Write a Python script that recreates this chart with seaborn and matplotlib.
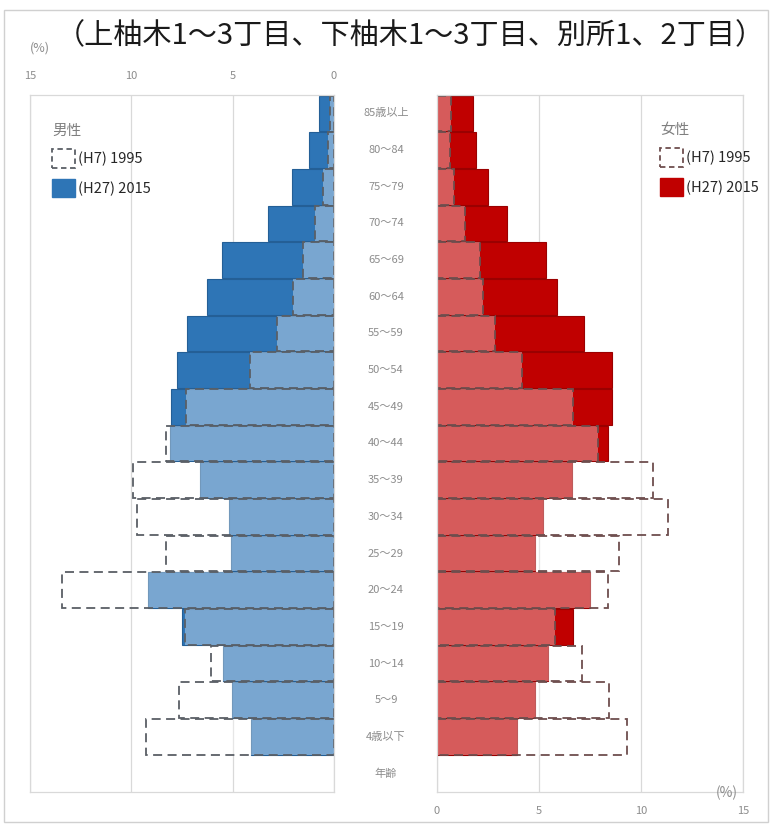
import matplotlib.pyplot as plt
import pandas as pd
import seaborn as sns

from matplotlib.patches import Patch, Rectangle
from matplotlib.transforms import blended_transform_factory


# ==========================================
# DATA
# ==========================================

ages = [
    "85歳以上", "80～84", "75～79", "70～74", "65～69", "60～64",
    "55～59", "50～54", "45～49", "40～44", "35～39", "30～34",
    "25～29", "20～24", "15～19", "10～14", "5～9", "4歳以下"
]

age_slots = ages + ["年齢"]

male_1995 = [0.2, 0.3, 0.54, 0.94, 1.53, 2.03, 2.82, 4.16, 7.28, 8.3,
             9.9, 9.7, 8.3, 13.4, 7.35, 6.08, 7.67, 9.29]
male_2015 = [0.74, 1.24, 2.08, 3.27, 5.54, 6.29, 7.23, 7.77, 8.02, 8.1,
             6.63, 5.2, 5.1, 9.16, 7.5, 5.48, 5.05, 4.1]

female_1995 = [0.69, 0.64, 0.83, 1.37, 2.1, 2.25, 2.84, 4.17, 6.67, 7.9,
               10.6, 11.3, 8.9, 8.4, 5.78, 7.1, 8.43, 9.3]
female_2015 = [1.76, 1.9, 2.5, 3.43, 5.34, 5.88, 7.2, 8.58, 8.58, 8.38,
               6.6, 5.2, 4.8, 7.5, 6.67, 5.44, 4.8, 3.92]

x_ticks = [0, 5, 10, 15]

title = "（上柚木1～3丁目、下柚木1～3丁目、別所1、2丁目）"

label_1995 = "(H7) 1995"
label_2015 = "(H27) 2015"

BLUE = "#2E75B6"
BLUE_EDGE = "#245f96"
RED = "#C00000"
RED_EDGE = "#9a0000"
GRID = "#d9d9d9"
TICK = "#8c8c8c"


sns.set_style("white")

plt.rcParams["font.family"] = ["Noto Sans CJK JP", "DejaVu Sans"]

W, H = 773, 824


def fx(px):
    return px / W


def fy(py):
    return 1 - py / H


# ==========================================
# ONE SIDE OF THE PYRAMID
# ==========================================

def draw_side(ax, old, new, dark, dark_edge, dash_color):

    df_new = pd.DataFrame({"age": ages, "value": new})
    df_old = pd.DataFrame({"age": ages, "value": old})

    sns.barplot(
        data=df_new, x="value", y="age", order=age_slots,
        orient="h", color=dark, saturation=1, width=0.97,
        errorbar=None, edgecolor=dark_edge, linewidth=0.8, ax=ax
    )

    n = len(ax.patches)

    sns.barplot(
        data=df_old, x="value", y="age", order=age_slots,
        orient="h", color="white", saturation=1, width=0.97,
        errorbar=None, ax=ax
    )

    # 1995 bars: translucent white with dashed outline
    for bar in ax.patches[n:]:
        bar.set_facecolor((1, 1, 1, 0.36))
        bar.set_edgecolor(dash_color)
        bar.set_linestyle((0, (5, 3)))
        bar.set_linewidth(1.3)

    ax.set_xlabel("")
    ax.set_ylabel("")
    ax.set_yticks([])
    ax.set_ylim(len(age_slots) - 0.5, -0.5)
    ax.set_xticks(x_ticks)
    ax.grid(axis="x", color=GRID, linewidth=0.9)
    ax.set_axisbelow(True)

    for spine in ax.spines.values():
        spine.set_color(GRID)
        spine.set_linewidth(0.9)

    ax.tick_params(
        axis="x", length=0, pad=10,
        labelsize=8, labelcolor=TICK
    )


fig = plt.figure(figsize=(W / 100, H / 100), dpi=100)

ax_l = fig.add_axes([fx(30), fy(792), fx(304), 697 / H])
ax_r = fig.add_axes([fx(437), fy(792), fx(306), 697 / H])

draw_side(ax_l, male_1995, male_2015, BLUE, BLUE_EDGE, "#5a5f66")
draw_side(ax_r, female_1995, female_2015, RED, RED_EDGE, "#6e4e4e")

ax_l.set_xlim(15, 0)
ax_l.xaxis.tick_top()
ax_r.set_xlim(0, 15)


# ==========================================
# AGE LABELS IN THE MIDDLE
# ==========================================

trans = blended_transform_factory(ax_r.transAxes, ax_r.transData)

for i, age in enumerate(age_slots):

    ax_r.text(
        (386 - 437) / 306, i, age,
        transform=trans, ha="center", va="center",
        fontsize=8, color=TICK
    )


# ==========================================
# LEGENDS
# ==========================================

def side_legend(ax, dark, dash_color, name, x0, y0):

    handles = [
        Patch(facecolor="white", edgecolor=dash_color,
              linestyle=(0, (3, 2)), linewidth=1.3, label=label_1995),
        Patch(facecolor=dark, edgecolor=dark, label=label_2015),
    ]

    leg = ax.legend(
        handles=handles, title=name, loc="upper left",
        bbox_to_anchor=(fx(x0), fy(y0)), bbox_transform=fig.transFigure,
        frameon=False, fontsize=10.5, title_fontsize=10.5,
        handlelength=1.6, handleheight=1.6, handletextpad=0.15,
        labelspacing=0.75, borderpad=0, borderaxespad=0,
        alignment="left"
    )

    leg.get_title().set_color("#7f7f7f")


side_legend(ax_l, BLUE, "#5a5f66", "男性", 52, 124)
side_legend(ax_r, RED, "#6e4e4e", "女性", 660, 123)


# ==========================================
# TITLE AND FRAME
# ==========================================

fig.text(fx(410), fy(36), title, ha="center", va="center",
         fontsize=21, color="#1a1a1a")

fig.text(fx(40), fy(48), "(%)", ha="center", va="center",
         fontsize=9, color=TICK)

fig.text(fx(727), fy(793), "(%)", ha="center", va="center",
         fontsize=10, color=TICK)

fig.add_artist(
    Rectangle(
        (fx(4), fy(822)), fx(764), 812 / H,
        transform=fig.transFigure, fill=False,
        edgecolor="#d0d0d0", linewidth=1
    )
)

plt.savefig("out.png", dpi=100)

plt.close()
